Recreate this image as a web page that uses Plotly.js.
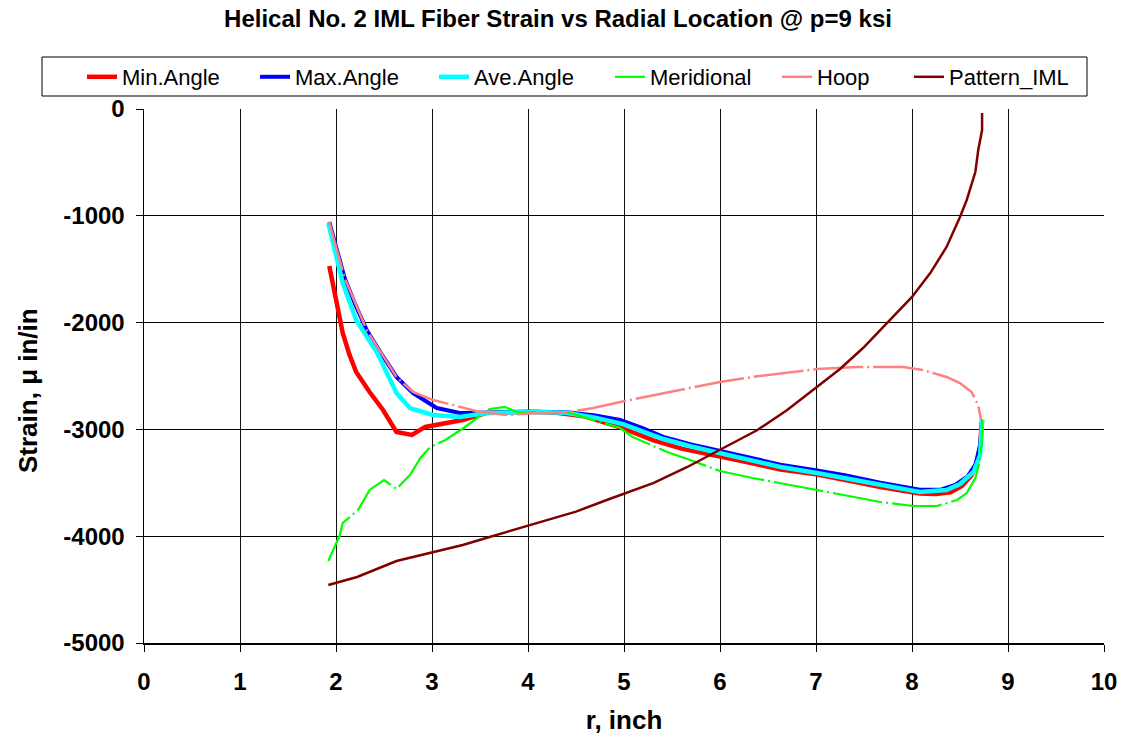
<!DOCTYPE html>
<html>
<head>
<meta charset="utf-8">
<script src="https://cdn.plot.ly/plotly-3.0.1.min.js"></script>
<style>html,body{margin:0;padding:0;background:#fff;}#chart{width:1125px;height:740px;}</style>
</head>
<body>
<div id="chart"></div>
<script>
// Min. Angle
const minX = [1.93, 2.0, 2.07, 2.14, 2.21, 2.35, 2.49, 2.63, 2.79, 2.93, 3.1, 3.32, 3.57, 3.8, 4.0, 4.3, 4.6, 4.96, 5.3, 5.6, 6.0, 6.35, 6.63, 7.0, 7.4, 7.67, 8.08, 8.25, 8.4, 8.52, 8.62, 8.68, 8.71, 8.73];
const minY = [-1470, -1800, -2097, -2300, -2463, -2650, -2818, -3024, -3052, -2977, -2950, -2912, -2846, -2840, -2835, -2845, -2880, -2980, -3100, -3180, -3260, -3320, -3375, -3420, -3490, -3540, -3600, -3605, -3590, -3530, -3430, -3300, -3150, -2910];
// Max. Angle
const maxX = [1.93, 2.0, 2.09, 2.2, 2.32, 2.48, 2.63, 2.8, 3.05, 3.29, 3.57, 3.8, 4.1, 4.4, 4.7, 4.96, 5.2, 5.41, 5.7, 6.0, 6.3, 6.63, 7.01, 7.3, 7.67, 8.08, 8.3, 8.45, 8.58, 8.66, 8.71, 8.73];
const maxY = [-1058, -1300, -1583, -1830, -2070, -2303, -2509, -2659, -2800, -2846, -2846, -2840, -2835, -2840, -2870, -2912, -2990, -3070, -3140, -3200, -3265, -3330, -3385, -3430, -3500, -3565, -3565, -3520, -3440, -3330, -3150, -2910];
// Ave. Angle
const aveX = [1.92, 2.0, 2.07, 2.21, 2.43, 2.63, 2.77, 3.01, 3.29, 3.57, 3.8, 4.1, 4.4, 4.7, 4.99, 5.2, 5.41, 5.7, 6.0, 6.3, 6.63, 7.01, 7.3, 7.67, 8.08, 8.36, 8.5, 8.64, 8.71, 8.73];
const aveY = [-1070, -1380, -1630, -1975, -2285, -2659, -2800, -2865, -2884, -2846, -2840, -2838, -2845, -2890, -2950, -3020, -3090, -3160, -3225, -3290, -3352, -3408, -3455, -3521, -3586, -3567, -3511, -3399, -3240, -2910];
// Meridional
const merX = [1.92, 2.04, 2.07, 2.23, 2.35, 2.50, 2.63, 2.77, 2.88, 2.98, 3.14, 3.33, 3.60, 3.76, 3.88, 4.1, 4.44, 4.68, 4.96, 5.09, 5.45, 5.69, 6.0, 6.34, 6.63, 7.01, 7.67, 7.88, 8.01, 8.26, 8.47, 8.57, 8.66, 8.70, 8.73, 8.73];
const merY = [-4232, -3989, -3876, -3755, -3567, -3474, -3558, -3427, -3268, -3165, -3099, -2987, -2809, -2790, -2837, -2840, -2846, -2912, -2987, -3071, -3212, -3287, -3390, -3455, -3502, -3567, -3680, -3699, -3717, -3717, -3661, -3596, -3455, -3315, -3099, -2910];
// Hoop
const hoopX = [1.93, 2.09, 2.32, 2.48, 2.63, 2.8, 3.01, 3.22, 3.5, 3.78, 4.09, 4.44, 4.68, 4.96, 5.31, 5.66, 6.0, 6.34, 6.7, 7.01, 7.43, 7.91, 8.11, 8.36, 8.5, 8.62, 8.69, 8.72];
const hoopY = [-1058, -1583, -2070, -2303, -2509, -2650, -2725, -2772, -2837, -2865, -2846, -2837, -2800, -2743, -2678, -2612, -2556, -2509, -2472, -2434, -2416, -2416, -2444, -2509, -2566, -2650, -2772, -2912];
// Pattern_IML
const patX = [1.92, 2.22, 2.63, 2.98, 3.32, 3.60, 4.13, 4.5, 4.82, 5.31, 5.66, 6.0, 6.39, 6.70, 6.97, 7.25, 7.49, 7.74, 8.0, 8.19, 8.36, 8.50, 8.57, 8.66, 8.69, 8.73, 8.73];
const patY = [-4457, -4382, -4232, -4157, -4082, -4007, -3867, -3770, -3661, -3500, -3352, -3193, -3006, -2818, -2631, -2434, -2238, -2004, -1760, -1536, -1292, -1011, -852, -590, -384, -197, -37];

const seriesNames = ['Min.Angle', 'Max.Angle', 'Ave.Angle', 'Meridional', 'Hoop', 'Pattern_IML'];
const xTicks = [0,1,2,3,4,5,6,7,8,9,10];
const yTicks = [0,-1000,-2000,-3000,-4000,-5000];

const dashDot = '50px,4px,2px,4px';
const legendIds = ['legend', 'legend2', 'legend3', 'legend4', 'legend5', 'legend6'];
const traces = [
  {x: minX, y: minY, name: seriesNames[0], mode: 'lines', line: {color: '#ff0000', width: 4.5}},
  {x: maxX, y: maxY, name: seriesNames[1], mode: 'lines', line: {color: '#0000ff', width: 4}},
  {x: aveX, y: aveY, name: seriesNames[2], mode: 'lines', line: {color: '#00ffff', width: 4.5}},
  {x: merX, y: merY, name: seriesNames[3], mode: 'lines', line: {color: '#00ff00', width: 2.2, dash: dashDot}},
  {x: hoopX, y: hoopY, name: seriesNames[4], mode: 'lines', line: {color: '#ff8080', width: 2.5, dash: dashDot}},
  {x: patX, y: patY, name: seriesNames[5], mode: 'lines', line: {color: '#800000', width: 2.5}}
];
traces.forEach((t, i) => { t.legend = legendIds[i]; });

const font = 'Liberation Sans, Arial, sans-serif';
const L = 144, R = 1104, T = 109, B = 643;
const legendLeft = [82, 255, 434, 610, 777, 909];

const layout = {
  width: 1125, height: 740,
  margin: {l: L, r: 1125 - R, t: T, b: 740 - B},
  paper_bgcolor: '#ffffff', plot_bgcolor: '#ffffff',
  font: {family: font, color: '#000'},
  title: {text: '<b>Helical No. 2 IML Fiber Strain vs Radial Location @ p=9 ksi</b>', font: {family: font, size: 24, color: '#000'},
          xref: 'container', x: 558 / 1125, xanchor: 'center', yref: 'container', y: 1 - 19 / 740, yanchor: 'middle'},
  showlegend: true,
  shapes: [{type: 'rect', xref: 'paper', yref: 'paper',
            x0: (42 - L) / (R - L), x1: (1087 - L) / (R - L), y0: (B - 96) / (B - T), y1: (B - 57) / (B - T),
            line: {color: '#000', width: 1}, fillcolor: 'rgba(0,0,0,0)'}],
  annotations: [{text: '<b>Strain, μ in/in</b>', xref: 'paper', yref: 'paper', x: (28 - L) / (R - L), y: (B - 391) / (B - T),
                 xanchor: 'center', yanchor: 'middle', textangle: -90, showarrow: false,
                 font: {family: font, size: 26, color: '#000'}}],
  xaxis: {range: [0, 10], tickvals: xTicks, ticktext: xTicks.map(String), showgrid: true, gridcolor: '#111', gridwidth: 1,
          zeroline: false, showline: true, linecolor: '#000', linewidth: 1.5, ticks: 'outside', ticklen: 7, tickcolor: '#000',
          ticklabelstandoff: 10,
          tickfont: {family: font, size: 24, color: '#000', weight: 'bold'},
          title: {text: '<b>r, inch</b>', font: {family: font, size: 26, color: '#000'}, standoff: 16}},
  yaxis: {range: [-5000, 0], tickvals: yTicks, ticktext: yTicks.map(String), showgrid: true, gridcolor: '#000', gridwidth: 1,
          zeroline: false, showline: true, linecolor: '#000', linewidth: 1.5, ticks: 'outside', ticklen: 7, tickcolor: '#000',
          ticklabelstandoff: 6,
          tickfont: {family: font, size: 24, color: '#000', weight: 'bold'}}
};
legendIds.forEach((id, i) => {
  layout[id] = {orientation: 'h', xref: 'container', x: legendLeft[i] / 1125, xanchor: 'left',
                yref: 'container', y: 1 - 77 / 740, yanchor: 'middle',
                borderwidth: 0, bgcolor: 'rgba(0,0,0,0)',
                font: {family: font, size: 22, color: '#000'}};
});

Plotly.newPlot('chart', traces, layout, {displayModeBar: false, staticPlot: true});
</script>
</body>
</html>
